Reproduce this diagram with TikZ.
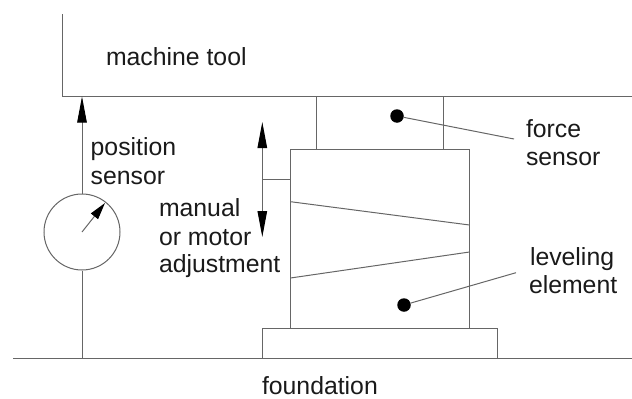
\documentclass[tikz,border=0pt]{standalone}
\usepackage{fontspec}
\setmainfont{Liberation Sans}
\usetikzlibrary{arrows.meta}
\definecolor{ln}{HTML}{666666}
\definecolor{tx}{HTML}{1A1A1A}
\tikzset{
  ln/.style={draw=ln,line width=1pt},
  lbl/.style={anchor=base west,inner sep=0pt,outer sep=0pt,text=tx,font=\fontsize{24.8}{24.8}\selectfont},
  tipped/.style={ln,-{Triangle[length=26pt,width=9.5pt,black]}},
  dot/.style={circle,fill=black,inner sep=0pt,minimum size=13.5pt},
  dial/.style={circle,ln,inner sep=0pt,minimum size=76pt}
}
\begin{document}
\begin{tikzpicture}[x=1pt,y=-1pt]
\useasboundingbox (0,0) rectangle (632,399);
% machine tool
\coordinate (mtTop) at (62,14);
\coordinate (mtCorner) at (62,96.5);
\coordinate (mtEnd) at (632,96.5);
\draw[ln] (mtTop) -- (mtCorner) -- (mtEnd);
% ground
\coordinate (gL) at (13,358.5);
\coordinate (gR) at (632,358.5);
\draw[ln] (gL) -- (gR);
% force sensor
\draw[ln] (316.5,96.5) -- (316.5,149.5);
\draw[ln] (443.5,96.5) -- (443.5,149.5);
% leveling element
\draw[ln] (290.5,328.5) -- (290.5,149.5) -- (469.5,149.5) -- (469.5,328.5);
\draw[ln] (290.5,201.7) -- (469.5,225);
\draw[ln] (290.5,278) -- (469.5,252);
% base
\draw[ln] (262.5,358.5) -- (262.5,328.5) -- (497.5,328.5) -- (497.5,358.5);
% position sensor
\node[dial] (dial) at (82,232) {};
\coordinate (gP) at (82,358.5);
\coordinate (mtP) at (82,96.5);
\coordinate (needleTip) at (105,203);
\draw[ln] (dial.south) -- (gP);
\draw[tipped] (dial.north) -- (mtP);
\draw[ln,-{Triangle[length=17pt,width=9pt,black]}] (dial.center) -- (needleTip);
% adjustment arrow
\coordinate (adjT) at (262.3,122);
\coordinate (adjB) at (262.3,237);
\coordinate (adjM) at (262.3,179);
\coordinate (adjBox) at (290.5,179);
\draw[ln] (adjM) -- (adjBox);
\draw[tipped] (adjM) -- (adjT);
\draw[tipped] (adjM) -- (adjB);
% dots and leaders
\node[dot] (fdot) at (397,116) {};
\coordinate (fEnd) at (514,139);
\draw[ln] (fdot) -- (fEnd);
\node[dot] (ldot) at (404,305) {};
\coordinate (lEnd) at (516,272.7);
\draw[ln] (ldot) -- (lEnd);
% labels
\node[lbl] (tMachine) at (106,65) {machine tool};
\node[lbl] (tPos) at (90.7,155.5) {position};
\node[lbl] (tSens) at (90.7,184) {sensor};
\node[lbl] (tMan) at (159,216.5) {manual};
\node[lbl] (tOr) at (159,245) {or motor};
\node[lbl] (tAdj) at (159,272) {adjustment};
\node[lbl] (tForce) at (526,137.3) {force};
\node[lbl] (tFs) at (526,165) {sensor};
\node[lbl] (tLev) at (530,265) {leveling};
\node[lbl] (tEl) at (529,293) {element};
\node[lbl] (tFound) at (262,394) {foundation};
\end{tikzpicture}
\end{document}
